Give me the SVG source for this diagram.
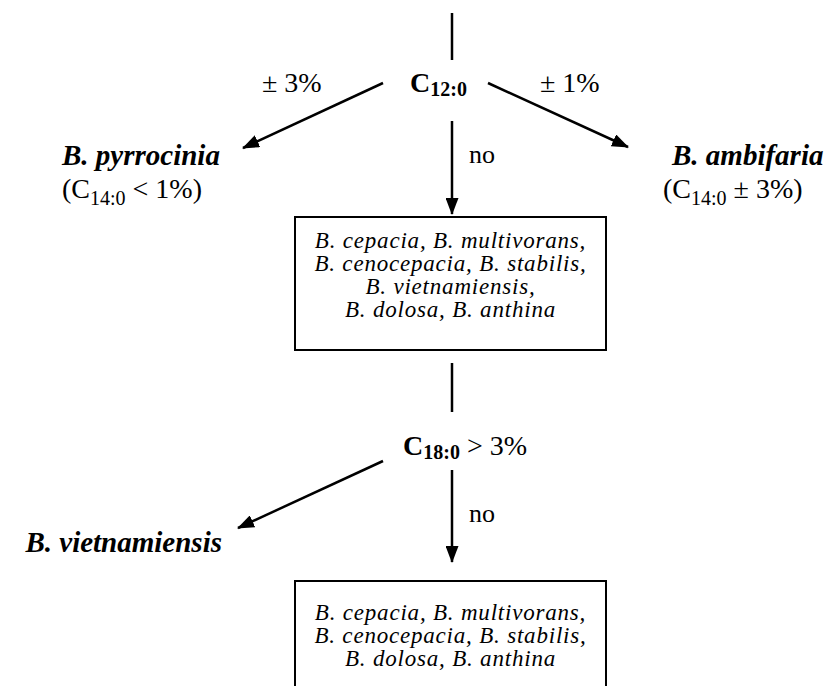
<svg xmlns="http://www.w3.org/2000/svg" width="826" height="686" viewBox="0 0 826 686" font-family="'Liberation Serif', 'DejaVu Serif', serif">
<style>
text{font-family:'Liberation Serif','DejaVu Serif',serif;fill:#000}
.lab{font-size:28px}
.no{font-size:26px}
.bi{font-size:29px;font-weight:bold;font-style:italic}
.cond{font-size:28px;font-weight:bold}
.box{font-size:23px;font-style:italic;letter-spacing:0.8px}
.sub{font-size:20px}
.c{stroke:#000;stroke-width:2.5;fill:none}
</style>
<defs>
<marker id="ah" markerWidth="17" markerHeight="13" refX="16" refY="6.5" orient="auto" markerUnits="userSpaceOnUse">
<path d="M0,0 L17,6.5 L0,13 z" fill="#000"/>
</marker>
</defs>
<g id="connectors">
<line class="c" x1="452" y1="13" x2="452" y2="60"/>
<line class="c" x1="383" y1="83" x2="243" y2="148" marker-end="url(#ah)"/>
<line class="c" x1="488" y1="83" x2="628" y2="147" marker-end="url(#ah)"/>
<line class="c" x1="452" y1="121" x2="452" y2="214" marker-end="url(#ah)"/>
<line class="c" x1="452" y1="363" x2="452" y2="412"/>
<line class="c" x1="383" y1="461" x2="238" y2="528" marker-end="url(#ah)"/>
<line class="c" x1="452" y1="470" x2="452" y2="562" marker-end="url(#ah)"/>
<text class="lab" x="262" y="92">± 3%</text>
<text class="lab" x="540" y="92">± 1%</text>
<text class="no" x="469" y="163">no</text>
<text class="no" x="469" y="522">no</text>
</g>
<g id="c12">
<text class="cond" x="410" y="92">C<tspan class="sub" dy="4">12:0</tspan></text>
</g>
<g id="pyrrocinia">
<text class="bi" x="62" y="165">B. pyrrocinia</text>
<text class="lab" x="62" y="198">(C<tspan class="sub" dy="7">14:0</tspan><tspan dy="-7"> &lt; 1%)</tspan></text>
</g>
<g id="ambifaria">
<text class="bi" x="672" y="165">B. ambifaria</text>
<text class="lab" x="663" y="198">(C<tspan class="sub" dy="7">14:0</tspan><tspan dy="-7"> ± 3%)</tspan></text>
</g>
<g id="box1">
<rect x="295" y="217" width="311" height="133" fill="#fff" stroke="#000" stroke-width="2"/>
<text class="box" text-anchor="middle" x="450.5" y="248">B. cepacia, B. multivorans,</text>
<text class="box" text-anchor="middle" x="450.5" y="271">B. cenocepacia, B. stabilis,</text>
<text class="box" text-anchor="middle" x="450.5" y="294">B. vietnamiensis,</text>
<text class="box" text-anchor="middle" x="450.5" y="317">B. dolosa, B. anthina</text>
</g>
<g id="c18">
<text class="cond" x="403" y="455">C<tspan class="sub" dy="4">18:0</tspan><tspan dy="-4" style="font-weight:normal"> &gt; 3%</tspan></text>
</g>
<g id="vietnamiensis">
<text class="bi" x="222" y="552" text-anchor="end">B. vietnamiensis</text>
</g>
<g id="box2">
<rect x="295" y="581" width="311" height="120" fill="#fff" stroke="#000" stroke-width="2"/>
<text class="box" text-anchor="middle" x="450.5" y="620">B. cepacia, B. multivorans,</text>
<text class="box" text-anchor="middle" x="450.5" y="643">B. cenocepacia, B. stabilis,</text>
<text class="box" text-anchor="middle" x="450.5" y="666">B. dolosa, B. anthina</text>
</g>
</svg>
